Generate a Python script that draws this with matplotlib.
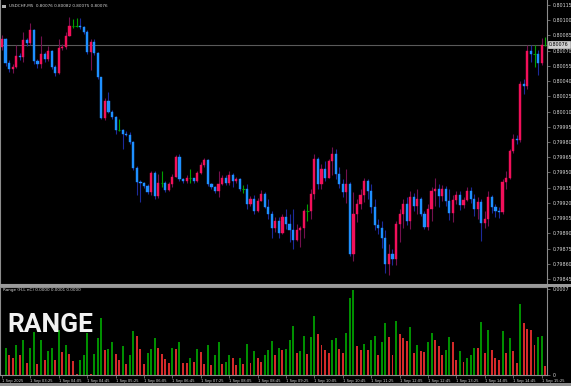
import numpy as np
import matplotlib
matplotlib.use("Agg")
import matplotlib.pyplot as plt
from matplotlib.patches import Rectangle

# --- USDCHF M5, 1 Sep 2025 02:45 .. 15:30 (154 bars) ---
first_open = 0.80074

close = [
    0.80081, 0.80058, 0.80052, 0.80054, 0.80065, 0.80064, 0.80080, 0.80078, 0.80090, 0.80060,
    0.80057, 0.80067, 0.80062, 0.80070, 0.80054, 0.80048, 0.80073, 0.80074, 0.80084, 0.80094,
    0.80094, 0.80094, 0.80093, 0.80088, 0.80069, 0.80079, 0.80068, 0.80044, 0.80004, 0.80020,
    0.80010, 0.80005, 0.79992, 0.79992, 0.79988, 0.79987, 0.79980, 0.79954, 0.79941, 0.79940,
    0.79937, 0.79931, 0.79949, 0.79927, 0.79940, 0.79940, 0.79933, 0.79939, 0.79946, 0.79965,
    0.79944, 0.79942, 0.79945, 0.79945, 0.79942, 0.79949, 0.79957, 0.79962, 0.79939, 0.79936,
    0.79932, 0.79939, 0.79945, 0.79940, 0.79947, 0.79942, 0.79944, 0.79934, 0.79934, 0.79919,
    0.79924, 0.79912, 0.79922, 0.79929, 0.79916, 0.79909, 0.79895, 0.79902, 0.79890, 0.79906,
    0.79899, 0.79893, 0.79883, 0.79893, 0.79895, 0.79912, 0.79912, 0.79929, 0.79963, 0.79939,
    0.79953, 0.79945, 0.79961, 0.79968, 0.79948, 0.79939, 0.79931, 0.79939, 0.79870, 0.79909,
    0.79919, 0.79928, 0.79942, 0.79932, 0.79916, 0.79898, 0.79895, 0.79885, 0.79860, 0.79870,
    0.79865, 0.79899, 0.79909, 0.79919, 0.79902, 0.79926, 0.79917, 0.79924, 0.79909, 0.79896,
    0.79914, 0.79932, 0.79934, 0.79927, 0.79934, 0.79922, 0.79910, 0.79923, 0.79928, 0.79918,
    0.79923, 0.79932, 0.79924, 0.79914, 0.79921, 0.79900, 0.79904, 0.79926, 0.79916, 0.79912,
    0.79911, 0.79941, 0.79945, 0.79971, 0.79983, 0.79982, 0.80037, 0.80035, 0.80070, 0.80067,
    0.80067, 0.80058, 0.80076, 0.80076,
]

high = [
    0.80085, 0.80082, 0.80061, 0.80057, 0.80076, 0.80068, 0.80088, 0.80082, 0.80097, 0.80091,
    0.80062, 0.80084, 0.80069, 0.80075, 0.80071, 0.80056, 0.80081, 0.80077, 0.80088, 0.80103,
    0.80101, 0.80102, 0.80102, 0.80094, 0.80090, 0.80081, 0.80081, 0.80069, 0.80044, 0.80023,
    0.80029, 0.80012, 0.80006, 0.80003, 0.79993, 0.79991, 0.79990, 0.79981, 0.79956, 0.79943,
    0.79941, 0.79939, 0.79951, 0.79951, 0.79948, 0.79951, 0.79942, 0.79941, 0.79948, 0.79967,
    0.79968, 0.79945, 0.79947, 0.79953, 0.79945, 0.79951, 0.79960, 0.79964, 0.79963, 0.79940,
    0.79937, 0.79951, 0.79947, 0.79947, 0.79951, 0.79949, 0.79946, 0.79945, 0.79938, 0.79939,
    0.79927, 0.79928, 0.79925, 0.79933, 0.79931, 0.79924, 0.79912, 0.79906, 0.79906, 0.79909,
    0.79914, 0.79909, 0.79914, 0.79899, 0.79897, 0.79914, 0.79919, 0.79934, 0.79968, 0.79965,
    0.79958, 0.79961, 0.79963, 0.79975, 0.79973, 0.79955, 0.79944, 0.79953, 0.79941, 0.79931,
    0.79924, 0.79934, 0.79945, 0.79944, 0.79939, 0.79924, 0.79904, 0.79902, 0.79893, 0.79880,
    0.79875, 0.79902, 0.79914, 0.79924, 0.79926, 0.79932, 0.79930, 0.79934, 0.79926, 0.79912,
    0.79919, 0.79936, 0.79945, 0.79939, 0.79938, 0.79937, 0.79934, 0.79928, 0.79932, 0.79932,
    0.79926, 0.79936, 0.79936, 0.79929, 0.79926, 0.79924, 0.79912, 0.79932, 0.79928, 0.79919,
    0.79916, 0.79944, 0.79951, 0.79973, 0.79988, 0.79987, 0.80040, 0.80042, 0.80076, 0.80076,
    0.80076, 0.80071, 0.80082, 0.80083,
]

low = [
    0.80071, 0.80055, 0.80049, 0.80048, 0.80053, 0.80061, 0.80059, 0.80075, 0.80076, 0.80057,
    0.80053, 0.80053, 0.80059, 0.80060, 0.80052, 0.80045, 0.80047, 0.80071, 0.80072, 0.80084,
    0.80092, 0.80093, 0.80091, 0.80086, 0.80067, 0.80051, 0.80066, 0.80042, 0.80003, 0.80002,
    0.80009, 0.80003, 0.79988, 0.79991, 0.79973, 0.79986, 0.79978, 0.79952, 0.79928, 0.79921,
    0.79935, 0.79929, 0.79928, 0.79924, 0.79925, 0.79936, 0.79931, 0.79932, 0.79936, 0.79946,
    0.79942, 0.79940, 0.79940, 0.79940, 0.79940, 0.79941, 0.79948, 0.79955, 0.79937, 0.79934,
    0.79930, 0.79926, 0.79938, 0.79938, 0.79938, 0.79936, 0.79940, 0.79932, 0.79930, 0.79914,
    0.79917, 0.79909, 0.79911, 0.79922, 0.79915, 0.79904, 0.79885, 0.79891, 0.79885, 0.79889,
    0.79894, 0.79881, 0.79875, 0.79882, 0.79877, 0.79885, 0.79902, 0.79904, 0.79924, 0.79934,
    0.79934, 0.79942, 0.79945, 0.79947, 0.79944, 0.79935, 0.79926, 0.79920, 0.79868, 0.79863,
    0.79901, 0.79914, 0.79921, 0.79924, 0.79910, 0.79893, 0.79889, 0.79876, 0.79851, 0.79849,
    0.79859, 0.79859, 0.79881, 0.79895, 0.79898, 0.79894, 0.79912, 0.79909, 0.79907, 0.79894,
    0.79893, 0.79902, 0.79917, 0.79916, 0.79922, 0.79917, 0.79903, 0.79901, 0.79919, 0.79913,
    0.79915, 0.79922, 0.79920, 0.79907, 0.79904, 0.79882, 0.79895, 0.79897, 0.79910, 0.79906,
    0.79905, 0.79909, 0.79934, 0.79944, 0.79969, 0.79978, 0.79980, 0.80027, 0.80032, 0.80059,
    0.80054, 0.80046, 0.80056, 0.80075,
]

# Range (H-L nC) indicator values, first bar empty
rng = [
    np.nan, 0.000221, 0.000159, 0.000140, 0.000247, 0.000159, 0.000288, 0.000100, 0.000223, 0.000350,
    0.000086, 0.000288, 0.000126, 0.000194, 0.000223, 0.000118, 0.000369, 0.000186, 0.000247, 0.000172,
    0.000110, 0.000005, 0.000118, 0.000159, 0.000342, 0.000005, 0.000172, 0.000301, 0.000463, 0.000202,
    0.000213, 0.000269, 0.000172, 0.000126, 0.000234, 0.000086, 0.000159, 0.000355, 0.000320, 0.000213,
    0.000086, 0.000180, 0.000215, 0.000301, 0.000223, 0.000172, 0.000132, 0.000094, 0.000223, 0.000213,
    0.000269, 0.000094, 0.000094, 0.000140, 0.000108, 0.000213, 0.000186, 0.000086, 0.000247, 0.000078,
    0.000159, 0.000269, 0.000086, 0.000108, 0.000159, 0.000140, 0.000078, 0.000140, 0.000086, 0.000256,
    0.000100, 0.000194, 0.000140, 0.000108, 0.000159, 0.000202, 0.000280, 0.000159, 0.000223, 0.000202,
    0.000213, 0.000288, 0.000401, 0.000180, 0.000194, 0.000320, 0.000172, 0.000309, 0.000484, 0.000334,
    0.000247, 0.000202, 0.000180, 0.000288, 0.000299, 0.000213, 0.000180, 0.000342, 0.000624, 0.000691,
    0.000234, 0.000202, 0.000256, 0.000202, 0.000288, 0.000320, 0.000159, 0.000269, 0.000422, 0.000309,
    0.000159, 0.000441, 0.000334, 0.000301, 0.000280, 0.000390, 0.000180, 0.000247, 0.000194, 0.000186,
    0.000269, 0.000342, 0.000288, 0.000234, 0.000159, 0.000204, 0.000309, 0.000269, 0.000126, 0.000194,
    0.000108, 0.000137, 0.000159, 0.000221, 0.000221, 0.000433, 0.000180, 0.000366, 0.000202, 0.000140,
    0.000118, 0.000355, 0.000180, 0.000299, 0.000194, 0.000097, 0.000581, 0.000422, 0.000374, 0.000363,
    0.000247, 0.000309, 0.000320, 0.000075,
]

time_labels = ["1 Sep 2025", "1 Sep 03:25", "1 Sep 04:05", "1 Sep 04:45", "1 Sep 05:25",
               "1 Sep 06:05", "1 Sep 06:45", "1 Sep 07:25", "1 Sep 08:05", "1 Sep 08:45",
               "1 Sep 09:25", "1 Sep 10:05", "1 Sep 10:45", "1 Sep 11:25", "1 Sep 12:05",
               "1 Sep 12:45", "1 Sep 13:25", "1 Sep 14:05", "1 Sep 14:45", "1 Sep 15:25"]
price_ticks = [0.79845, 0.79860, 0.79875, 0.79890, 0.79905, 0.79920, 0.79935, 0.79950,
               0.79965, 0.79980, 0.79995, 0.80010, 0.80025, 0.80040, 0.80055, 0.80070,
               0.80085, 0.80100, 0.80115]
bid = 0.80076

# --- colours ---
BULL = "#f2105a"
BULL_WICK = "#74104e"
BEAR = "#1e90ff"
BEAR_WICK = "#1c2a9a"
DOJI = "#00a000"
GREEN = "#008f00"
RED = "#d42a2a"
GRID = "#8c8c8c"
TXT = "#d8d8d8"

c = np.array(close)
h = np.array(high)
l = np.array(low)
o = np.r_[first_open, c[:-1]]
x = np.arange(len(c))
up = c > o
dn = c < o
dj = c == o

W, H = 571, 386
fig = plt.figure(figsize=(W / 100, H / 100), dpi=100, facecolor="black")


def box(left, top, right, bottom):
    return [left / W, 1 - bottom / H, (right - left) / W, (bottom - top) / H]


ax = fig.add_axes(box(0, 0, 547, 284))
ax2 = fig.add_axes(box(0, 287, 547, 375), sharex=ax)

for a in (ax, ax2):
    a.set_facecolor("black")
    for s in a.spines.values():
        s.set_color(GRID)
        s.set_linewidth(0.8)
ax.spines["top"].set_visible(False)

# --- candles ---
ax.axhline(bid, color="#5a5a5a", lw=0.8, zorder=1)
ax.vlines(x[up], l[up], h[up], color=BULL_WICK, lw=0.8, zorder=2)
ax.vlines(x[dn], l[dn], h[dn], color=BEAR_WICK, lw=0.8, zorder=2)
ax.vlines(x[dj], l[dj], h[dj], color=DOJI, lw=0.8, zorder=2)
ax.bar(x[up], (c - o)[up], bottom=o[up], width=0.6, color=BULL,
       edgecolor=BULL, lw=0.3, zorder=3)
ax.bar(x[dn], (o - c)[dn], bottom=c[dn], width=0.6, color=BEAR,
       edgecolor=BEAR, lw=0.3, zorder=3)
ax.hlines(c[dj], x[dj] - 0.35, x[dj] + 0.35, color=DOJI, lw=0.8, zorder=3)

ax.set_xlim(-0.56, 153.52)
ax.set_ylim(0.798401, 0.801199)
ax.yaxis.tick_right()
ax.set_yticks(price_ticks)
ax.set_yticklabels([f"{v:.5f}" for v in price_ticks])
ax.tick_params(axis="y", length=2, width=0.5, color=GRID, labelsize=3.4,
               labelcolor=TXT, pad=2)
ax.tick_params(axis="x", bottom=False, labelbottom=False)

ax.text(1.004, bid, f"{bid:.5f}", transform=ax.get_yaxis_transform(),
        fontsize=3.4, color="black", va="center", ha="left",
        bbox=dict(boxstyle="square,pad=0.25", fc="#d0d0d0", ec="#f0f0f0", lw=0.4),
        zorder=5, clip_on=False)

ax.text(9 / 547, 0.985, "USDCHF,M5  0.80076 0.80082 0.80075 0.80076",
        transform=ax.transAxes, fontsize=3.0, color=TXT, va="top", ha="left")
ax.add_patch(Rectangle((2 / 547, 0.972), 4 / 547, 0.012, transform=ax.transAxes,
                       fc="#b0b0b0", ec="none"))

# --- range histogram ---
r = np.array(rng)
prev = np.r_[np.nan, r[:-1]]
rising = ~(r <= prev)
cols = [GREEN if g else RED for g in rising]
ax2.bar(x, np.nan_to_num(r), width=0.56, color=cols, lw=0)
ax2.set_ylim(0, 0.000716)
ax2.yaxis.tick_right()
ax2.set_yticks([0, 0.0007])
ax2.set_yticklabels(["0", "0.0007"])
ax2.tick_params(axis="y", length=2, width=0.5, color=GRID, labelsize=3.4,
                labelcolor=TXT, pad=2)
ax2.set_xticks(np.arange(0, 154, 8))
ax2.set_xticklabels(time_labels)
ax2.tick_params(axis="x", length=2, width=0.5, color=GRID, labelsize=2.7,
                labelcolor=TXT, pad=1)
for t in ax2.get_xticklabels():
    t.set_ha("left")

ax2.text(3 / 547, 0.985, "Range (H-L nC) 0.0000 0.0001 0.0000",
         transform=ax2.transAxes, fontsize=3.0, color=TXT, va="top", ha="left")
ax2.text(7 / 547, 0.49, "RANGE", transform=ax2.transAxes, fontsize=19,
         fontweight="bold", family="Roboto", color="#f2f2f2", va="baseline", ha="left")

# separators and bottom strip
fig.patches.append(Rectangle((0, 1 - 286.5 / H), 1, 2.5 / H, transform=fig.transFigure,
                             fc="#9a9a9a", ec="none"))
fig.patches.append(Rectangle((0, 0), 1, 3 / H, transform=fig.transFigure,
                             fc="#8c8c8c", ec="none"))

fig.savefig("out.png", dpi=100, facecolor="black")
